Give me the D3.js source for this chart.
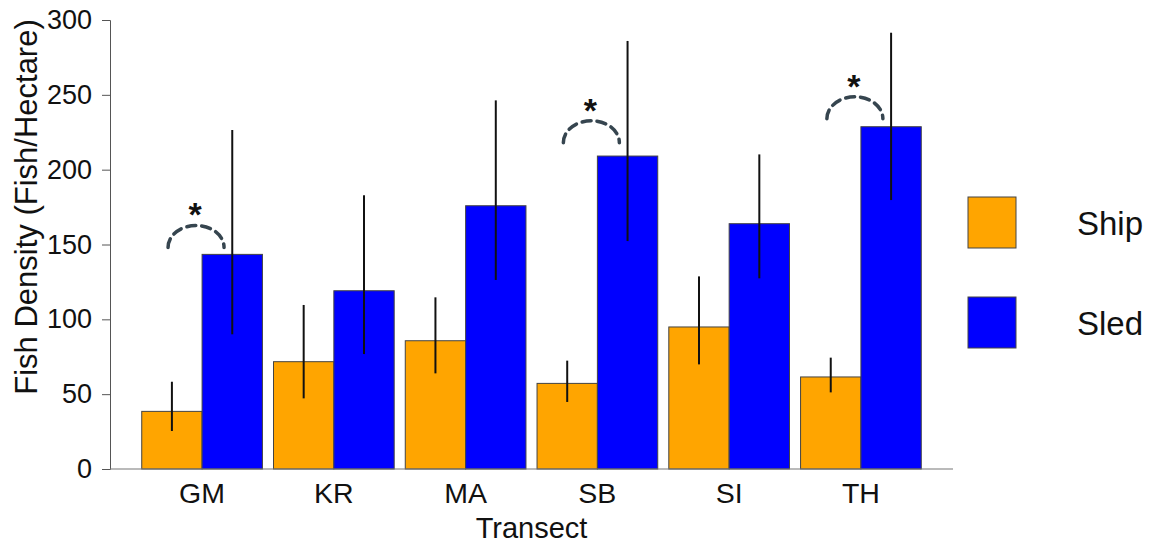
<!DOCTYPE html>
<html>
<head>
<meta charset="utf-8">
<script src="https://cdn.jsdelivr.net/npm/d3@7"></script>
<style>
  body { margin: 0; background: #fff; }
  text { font-family: "Liberation Sans", Arial, sans-serif; fill: #111; }
</style>
</head>
<body>
<div id="chart"></div>
<script>
// data
const transects = ["GM", "KR", "MA", "SB", "SI", "TH"];
const methods = ["Ship", "Sled"];
const shipMean = [38.5, 71.7, 85.7, 57.2, 94.9, 61.5];
const shipLow  = [25.4, 47.2, 63.9, 44.8, 69.9, 51.2];
const shipHigh = [58.3, 109.6, 114.7, 72.4, 128.7, 74.4];
const sledMean = [143.4, 119.1, 175.9, 209.1, 163.9, 228.7];
const sledLow  = [90.0, 76.8, 126.3, 152.3, 127.4, 179.7];
const sledHigh = [226.5, 182.9, 246.3, 286.0, 210.2, 291.5];
const yTicks = [0, 50, 100, 150, 200, 250, 300];
// significance brackets (value where the dashed arc ends)
const sigTransects = ["GM", "SB", "TH"];
const sigBase = [148, 218, 234];

const width = 1158, height = 545;
const colors = { Ship: "#FFA500", Sled: "#0000FF" };

const rows = [];
transects.forEach((t, i) => {
  rows.push({ transect: t, method: "Ship", mean: shipMean[i], lo: shipLow[i], hi: shipHigh[i] });
  rows.push({ transect: t, method: "Sled", mean: sledMean[i], lo: sledLow[i], hi: sledHigh[i] });
});

const svg = d3.select("#chart").append("svg")
  .attr("width", width)
  .attr("height", height);

const x = d3.scaleBand()
  .domain(transects)
  .range([136.2, 926.8])
  .paddingInner(0.084)
  .paddingOuter(0.042);

const xSub = d3.scaleBand()
  .domain(methods)
  .range([0, x.bandwidth()]);

const y = d3.scaleLinear()
  .domain([0, 300])
  .range([469, 20]);

// bars
svg.append("g").selectAll("rect")
  .data(rows)
  .join("rect")
  .attr("x", d => x(d.transect) + xSub(d.method))
  .attr("y", d => y(d.mean))
  .attr("width", xSub.bandwidth())
  .attr("height", d => y(0) - y(d.mean))
  .attr("fill", d => colors[d.method])
  .attr("stroke", "#444")
  .attr("stroke-width", 1);

// error bars
svg.append("g").selectAll("line")
  .data(rows)
  .join("line")
  .attr("x1", d => x(d.transect) + xSub(d.method) + xSub.bandwidth() / 2)
  .attr("x2", d => x(d.transect) + xSub(d.method) + xSub.bandwidth() / 2)
  .attr("y1", d => y(d.lo))
  .attr("y2", d => y(d.hi))
  .attr("stroke", "#111")
  .attr("stroke-width", 2);

// y axis
const yAxis = svg.append("g")
  .attr("transform", "translate(110,0)")
  .call(d3.axisLeft(y).tickValues(yTicks).tickSize(8).tickPadding(10));
yAxis.select(".domain").attr("stroke", "#555");
yAxis.selectAll(".tick line").attr("stroke", "#555");
yAxis.selectAll(".tick text")
  .attr("font-size", 27)
  .attr("fill", "#111")
  .attr("font-family", "Liberation Sans, Arial, sans-serif");

// x axis line
svg.append("line")
  .attr("x1", 110).attr("x2", 953)
  .attr("y1", y(0)).attr("y2", y(0))
  .attr("stroke", "#777").attr("stroke-width", 1.2);

svg.append("g").selectAll("text")
  .data(transects)
  .join("text")
  .attr("x", d => x(d) + x.bandwidth() / 2)
  .attr("y", 503)
  .attr("text-anchor", "middle")
  .attr("font-size", 28.5)
  .text(d => d);

// axis titles
svg.append("text")
  .attr("x", 531.5)
  .attr("y", 538)
  .attr("text-anchor", "middle")
  .attr("font-size", 29)
  .text("Transect");

svg.append("text")
  .attr("transform", "translate(37,207) rotate(-90)")
  .attr("text-anchor", "middle")
  .attr("font-size", 31)
  .text("Fish Density (Fish/Hectare)");

// significance arcs and stars
const rx = 28, ry = 22;
const sig = svg.append("g");
sigTransects.forEach((t, i) => {
  const cx = x(t) + x.bandwidth() * 0.45;
  const yb = y(sigBase[i]);
  sig.append("path")
    .attr("d", `M${cx - rx},${yb} A${rx},${ry} 0 0 1 ${cx + rx},${yb}`)
    .attr("fill", "none")
    .attr("stroke", "#36454f")
    .attr("stroke-width", 3.5)
    .attr("stroke-dasharray", "9,6")
    .attr("stroke-linecap", "round");
  sig.append("text")
    .attr("x", cx - 1)
    .attr("y", yb - ry + 1)
    .attr("text-anchor", "middle")
    .attr("font-size", 34)
    .attr("font-weight", "bold")
    .text("*");
});

// legend
const legend = svg.append("g");
methods.forEach((m, i) => {
  const gy = 197 + i * 100;
  legend.append("rect")
    .attr("x", 968).attr("y", gy)
    .attr("width", 48).attr("height", 51)
    .attr("fill", colors[m])
    .attr("stroke", "#444").attr("stroke-width", 1);
  legend.append("text")
    .attr("x", 1077).attr("y", gy + 38)
    .attr("font-size", 33)
    .text(m);
});
</script>
</body>
</html>
